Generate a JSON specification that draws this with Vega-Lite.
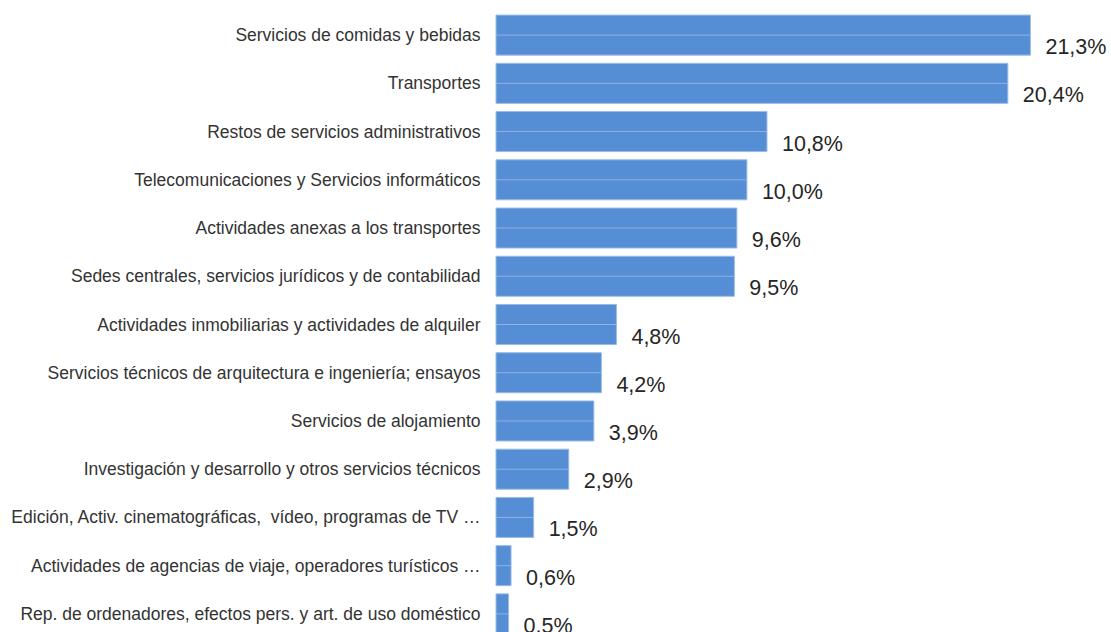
{
  "$schema": "https://vega.github.io/schema/vega-lite/v6.json",
  "autosize": {"type": "none"},
  "width": 552,
  "height": 627,
  "padding": {"left": 496, "top": 11, "right": 63, "bottom": 0},
  "background": "white",
  "config": {
    "view": {"stroke": null},
    "font": "Liberation Sans",
    "locale": {"number": {"decimal": ",", "thousands": ".", "grouping": [3], "currency": ["", " €"]}}
  },
  "data": {
    "values": [
      {"sector": "Servicios de comidas y bebidas", "share": 0.213},
      {"sector": "Transportes", "share": 0.204},
      {"sector": "Restos de servicios administrativos", "share": 0.108},
      {"sector": "Telecomunicaciones y Servicios informáticos", "share": 0.100},
      {"sector": "Actividades anexas a los transportes", "share": 0.096},
      {"sector": "Sedes centrales, servicios jurídicos y de contabilidad", "share": 0.095},
      {"sector": "Actividades inmobiliarias y actividades de alquiler", "share": 0.048},
      {"sector": "Servicios técnicos de arquitectura e ingeniería; ensayos", "share": 0.042},
      {"sector": "Servicios de alojamiento", "share": 0.039},
      {"sector": "Investigación y desarrollo y otros servicios técnicos", "share": 0.029},
      {"sector": "Edición, Activ. cinematográficas,\u00a0 vídeo, programas de TV …", "share": 0.015},
      {"sector": "Actividades de agencias de viaje, operadores turísticos …", "share": 0.006},
      {"sector": "Rep. de ordenadores, efectos pers. y art. de uso doméstico", "share": 0.005}
    ]
  },
  "encoding": {
    "y": {
      "field": "sector", "type": "nominal", "sort": null,
      "scale": {"paddingInner": 0.17, "paddingOuter": 0.085},
      "axis": {"title": null, "domain": false, "ticks": false, "labelPadding": 16, "labelLimit": 700, "labelFontSize": 17.5, "labelColor": "#333333", "labelFont": "Liberation Sans", "labelOffset": 1}
    },
    "x": {
      "field": "share", "type": "quantitative",
      "scale": {"domain": [0, 0.22], "nice": false},
      "axis": null
    }
  },
  "layer": [
    {"mark": {"type": "bar", "fill": "#558ed5", "stroke": "#9bbbe6", "strokeWidth": 1}},
    {"mark": {"type": "rule", "stroke": "#8fb3e3", "strokeWidth": 1}, "encoding": {"x": {"datum": 0, "type": "quantitative"}, "x2": {"field": "share"}}},
    {"mark": {"type": "text", "align": "left", "baseline": "alphabetic", "dx": 15, "dy": 19, "fontSize": 21.5, "color": "#262626"},
     "encoding": {"text": {"field": "share", "type": "quantitative", "format": ".1%"}}}
  ]
}
